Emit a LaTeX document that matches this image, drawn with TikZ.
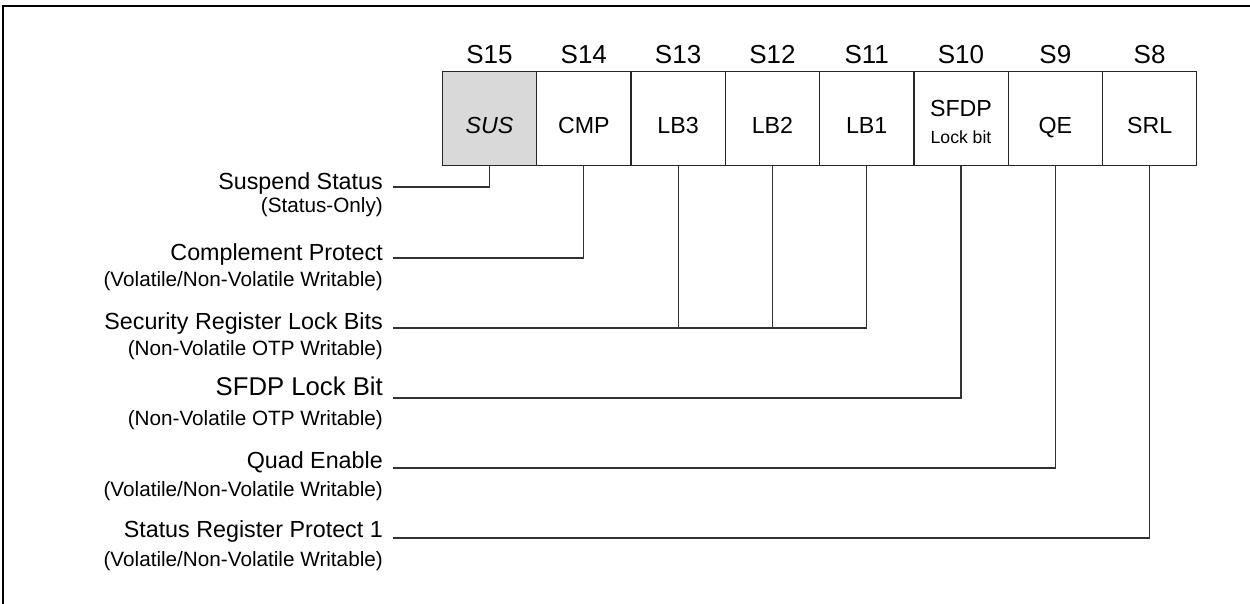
\documentclass[tikz,border=0pt]{standalone}
\usepackage{fontspec}
\setmainfont{Liberation Sans}
\begin{document}
\begin{tikzpicture}[x=1pt,y=-1pt,
  cell/.style={draw=black!85,line width=1.3pt,minimum width=94.3pt,minimum height=94pt,inner sep=0pt,anchor=north west},
  celltext/.style={anchor=base,inner sep=0pt,font=\fontsize{23.2}{28}\selectfont},
  head/.style={anchor=base,inner sep=0pt,font=\fontsize{26}{30}\selectfont},
  mainlab/.style={anchor=base east,inner sep=0pt,font=\fontsize{23.3}{28}\selectfont},
  biglab/.style={anchor=base east,inner sep=0pt,font=\fontsize{25.7}{30}\selectfont},
  sublab/.style={anchor=base east,inner sep=0pt,font=\fontsize{20.7}{25}\selectfont},
  conn/.style={draw=black!80,line width=1.2pt}]
\useasboundingbox (0,0) rectangle (1250,604);
\begin{scope}
\clip (0,0) rectangle (1250,604);
\draw[line width=2pt] (3.3,6) rectangle (1300,700);
\end{scope}
% cells
\node[cell,fill=black!15] (c15) at (441.7,71) {};
\node[cell] (c14) at (536.0,71) {};
\node[cell] (c13) at (630.3,71) {};
\node[cell] (c12) at (724.6,71) {};
\node[cell] (c11) at (818.9,71) {};
\node[cell] (c10) at (913.2,71) {};
\node[cell] (c9) at (1007.5,71) {};
\node[cell] (c8) at (1101.8,71) {};
% headers
\foreach \b in {15,14,13,12,11,10,9,8}{
  \node[head] (h\b) at ([yshift=7.7pt]c\b.north) {S\b};
}
% cell texts
\node[celltext] (t15) at ([yshift=-14.7pt]c15.center) {\textit{SUS}};
\node[celltext] (t14) at ([yshift=-14.7pt]c14.center) {CMP};
\node[celltext] (t13) at ([yshift=-14.7pt]c13.center) {LB3};
\node[celltext] (t12) at ([yshift=-14.7pt]c12.center) {LB2};
\node[celltext] (t11) at ([yshift=-14.7pt]c11.center) {LB1};
\node[celltext] (t10) at ([yshift=2pt]c10.center) {SFDP};
\node[anchor=base,inner sep=0pt,font=\fontsize{17.6}{20}\selectfont] (t10b) at ([yshift=-25.3pt]c10.center) {Lock bit};
\node[celltext] (t9) at ([yshift=-14.7pt]c9.center) {QE};
\node[celltext] (t8) at ([yshift=-14.7pt]c8.center) {SRL};
% labels
\node[mainlab] (l1) at (383,189.5) {Suspend Status};
\node[sublab] (l1s) at (383,213) {(Status-Only)};
\node[mainlab] (l2) at (383,260) {Complement Protect};
\node[sublab] (l2s) at (383,286) {(Volatile/Non-Volatile Writable)};
\node[mainlab] (l3) at (383,329) {Security Register Lock Bits};
\node[sublab] (l3s) at (383,355.7) {(Non-Volatile OTP Writable)};
\node[biglab] (l4) at (383,395) {SFDP Lock Bit};
\node[sublab] (l4s) at (383,425) {(Non-Volatile OTP Writable)};
\node[mainlab] (l5) at (383,468.3) {Quad Enable};
\node[sublab] (l5s) at (383,496.7) {(Volatile/Non-Volatile Writable)};
\node[mainlab] (l6) at (383,537.3) {Status Register Protect 1};
\node[sublab] (l6s) at (383,566.7) {(Volatile/Non-Volatile Writable)};
% connector ends
\coordinate (s1) at (393,187);
\coordinate (s2) at (393,258);
\coordinate (s3) at (393,328);
\coordinate (s4) at (393,398);
\coordinate (s5) at (393,468);
\coordinate (s6) at (393,538);
\draw[conn] (c15.south) |- (s1);
\draw[conn] (c14.south) |- (s2);
\draw[conn] (c11.south) |- (s3);
\draw[conn] (c13.south) -- (c13.south |- s3);
\draw[conn] (c12.south) -- (c12.south |- s3);
\draw[conn] (c10.south) |- (s4);
\draw[conn] (c9.south) |- (s5);
\draw[conn] (c8.south) |- (s6);
\end{tikzpicture}
\end{document}
